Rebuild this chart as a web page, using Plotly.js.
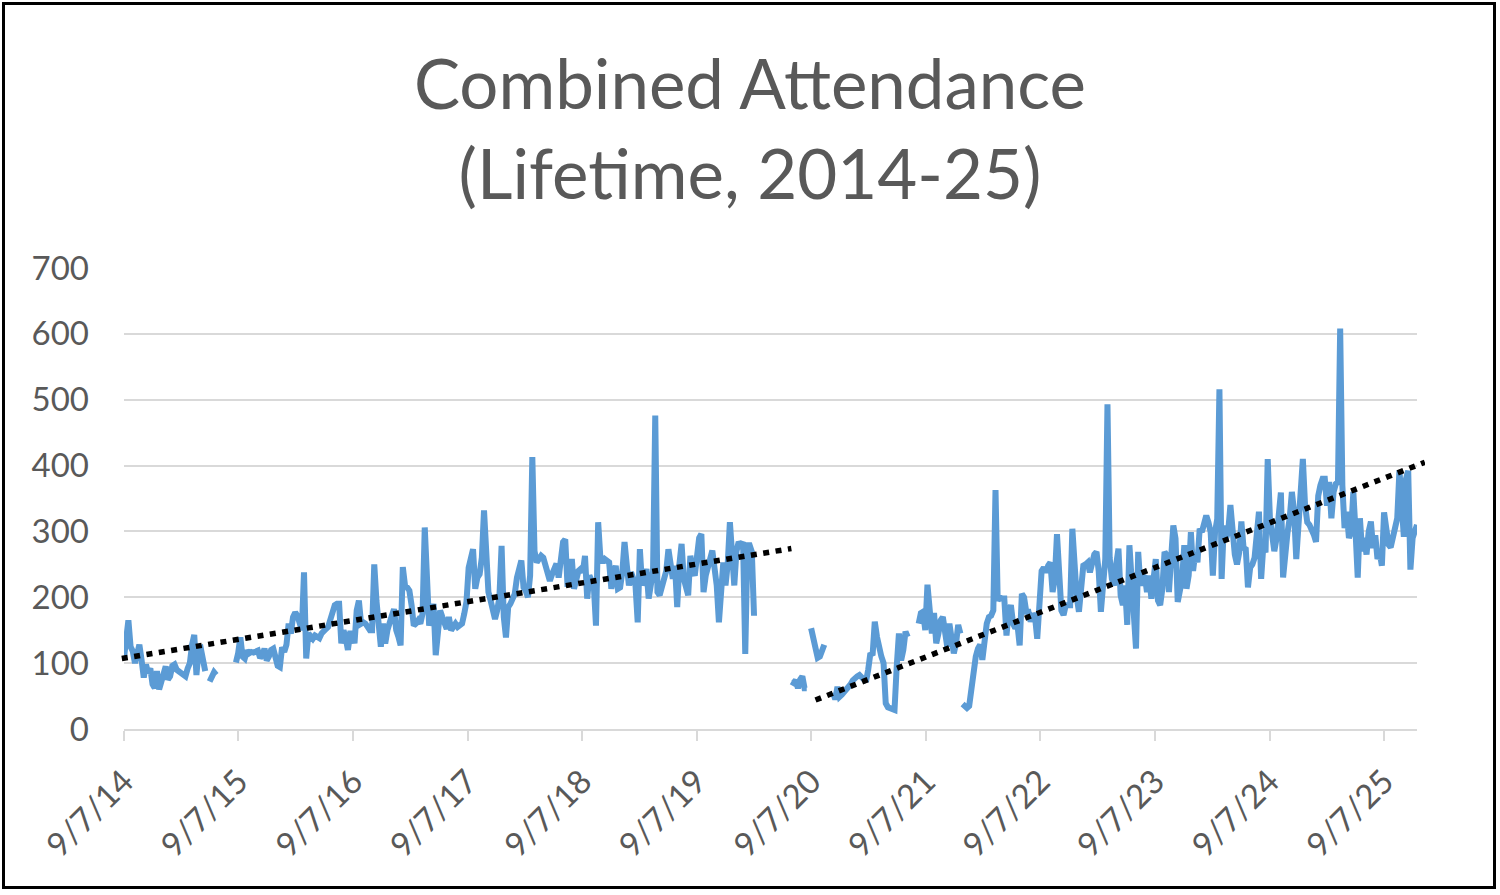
<!DOCTYPE html>
<html>
<head>
<meta charset="utf-8">
<title>Combined Attendance</title>
<script src="https://cdn.plot.ly/plotly-3.0.1.min.js"></script>
<style>
    html, body { margin: 0; padding: 0; background: #fff; }
    #chart { width: 1500px; height: 895px; }
    .frame { position: absolute; left: 2px; top: 2px; width: 1488px; height: 881px; border: 3px solid #000; pointer-events: none; }
</style>
</head>
<body>
<div id="chart"></div>
<div class="frame"></div>
<script>
// Weekly attendance. Each run is one unbroken stretch of the line.
const att1415 = [108, 140, 165, 125, 118, 100, 120, 128, 105, 78, 98, 85, 92, 68, 62, 88, 60, 75, 90, 95,
    75, 80, 96, 98, 90, 88, 86, 82, 80, 92, 100, 128, 143, 82, 120, 122, 100, 88, null, 72, 78, 86, 82];
const att1516 = [101, 115, 139, 110, 107, 119, 115, 117, 116, 118, 119, 108, 112, 122, 104, 110, 120, 122, 109, 96,
    94, 124, 117, 128, 160, 145, 170, 177, 172, 160, 150, 238, 107, 145, 140, 137, 142, 140, 138, 145,
    150, 152, 155, 165, 175, 188, 190, 190, 130, 150, 138, 120];
const att1617 = [145, 145, 130, 180, 195, 160, 162, 160, 155, 150, 150, 250, 195, 160, 125, 160, 130, 150, 165, 172,
    182, 150, 140, 127, 246, 218, 215, 210, 188, 157, 160, 165, 160, 175, 306, 200, 157, 175, 190, 112,
    150, 180, 170, 160, 152, 170, 150, 155, 160, 155, 158, 160];
const att1718 = [175, 193, 245, 258, 273, 213, 230, 235, 260, 332, 260, 208, 195, 180, 167, 180, 200, 278, 170, 139,
    185, 190, 200, 205, 230, 240, 256, 215, 210, 200, 233, 413, 270, 253, 258, 263, 260, 250, 235, 225,
    235, 245, 251, 230, 260, 284, 288, 220, 220, 258, 213, 233];
const att1819 = [240, 243, 238, 263, 198, 233, 225, 218, 157, 314, 260, 253, 258, 255, 253, 213, 230, 248, 213, 215,
    238, 284, 250, 218, 238, 225, 218, 162, 273, 218, 230, 243, 198, 228, 240, 476, 208, 203, 215, 230,
    240, 273, 250, 228, 248, 185, 250, 281, 228, 210, 203, 263];
const att1920 = [240, 233, 258, 290, 296, 208, 233, 250, 258, 271, 240, 218, 162, 220, 253, 218, 250, 314, 250, 218,
    270, 284, 279, 284, 114, 279, 279, 269, 172];
const attSummer20 = [72, 70, 74, 62, 75, 80, 62, 62];
const attFall20 = [153, 140, 125, 108, 110, 118, 128];
const attWinter21 = [55, 45, 64, 49, 52, 56, 59, 62, 68, 74, 78, 80, 82, 78, 74, 72, 90, 115, 112, 163,
    140, 120, 110, 100, 39, 33, 31, 30, 29, 95, 145, 104, 120, 148, 140];
const att2122 = [160, 176, 178, 150, 219, 165, 145, 176, 130, 145, 165, 170, 140, 125, 160, 140, 115, 130, 158, 145];
const att2022 = [38, 36, 32, 35, 60, 95, 110, 122, 128, 105, 138, 160, 170, 172, 180, 363, 195, 200, 198, 198,
    142, 178, 188, 160, 153, 158, 127, 205, 200, 178, 178, 163, 175, 170, 137, 178, 240, 245, 238, 248,
    253, 208, 228, 296, 228, 180, 173, 188, 188, 188, 304, 240];
const att2023 = [200, 178, 223, 248, 250, 253, 238, 258, 265, 269, 240, 178, 228, 258, 493, 260, 228, 218, 250, 274,
    203, 188, 218, 158, 279, 218, 180, 122, 269, 218, 230, 233, 208, 233, 198, 223, 258, 195, 188, 213,
    269, 264, 208, 260, 309, 289, 193, 210, 228, 279, 213, 233];
const att2024 = [299, 240, 268, 253, 304, 299, 310, 324, 314, 299, 233, 299, 319, 516, 228, 309, 289, 300, 340, 300,
    265, 250, 268, 315, 275, 273, 215, 245, 250, 260, 300, 330, 228, 278, 268, 410, 320, 290, 270, 289,
    320, 359, 230, 280, 298, 320, 360, 330, 258, 309, 355, 410];
const att2025 = [340, 314, 310, 304, 295, 284, 354, 370, 380, 380, 339, 375, 320, 360, 372, 375, 608, 370, 305, 330,
    290, 300, 360, 300, 230, 320, 270, 290, 265, 300, 315, 275, 294, 258, 268, 248, 329, 305, 280, 276,
    290, 305, 320, 393, 330, 292, 380, 392, 242, 290, 300, 310];

const runs = [
    { start: '2014-09-07', values: att1415 },
    { start: '2015-08-30', values: [...att1516, ...att1617, ...att1718, ...att1819, ...att1920] },
    { start: '2020-07-05', values: attSummer20 },
    { start: '2020-09-06', values: attFall20 },
    { start: '2020-11-15', values: attWinter21 },
    { start: '2021-08-15', values: att2122 },
    { start: '2022-01-02', values: [...att2022, ...att2023, ...att2024, ...att2025] }
];

// Dotted linear trendlines (end points as drawn)
const trendEarlyDates = ['2014-08-31', '2020-07-05'];
const trendEarlyValues = [107, 274];
const trendLateDates = ['2020-09-20', '2026-01-15'];
const trendLateValues = [44, 405];

const tickDates = ['2014-09-07', '2015-09-07', '2016-09-07', '2017-09-07', '2018-09-07', '2019-09-07',
    '2020-09-07', '2021-09-07', '2022-09-07', '2023-09-07', '2024-09-07', '2025-09-07'];
const tickLabels = ['9/7/14', '9/7/15', '9/7/16', '9/7/17', '9/7/18', '9/7/19',
    '9/7/20', '9/7/21', '9/7/22', '9/7/23', '9/7/24', '9/7/25'];
const xRange = ['2014-09-07', '2025-12-21'];

const DAY = 86400000;
const TEXT = '#595959';
const GRID = '#D9D9D9';
const FONT = 'Lato, "Open Sans", sans-serif';

function isoDay(ms) {
    return new Date(ms).toISOString().slice(0, 10);
}

function buildSeries(list) {
    const x = [], y = [];
    list.forEach((run, r) => {
        const t0 = Date.parse(run.start + 'T00:00:00Z');
        if (r) { x.push(isoDay(t0 - DAY)); y.push(null); }
        run.values.forEach((v, i) => {
            x.push(isoDay(t0 + i * 7 * DAY));
            y.push(v);
        });
    });
    return { x, y };
}

// plot box: the axes span AXIS_L..AXIS_R, the trendlines run a few px past them
const PLOT_L = 118, AXIS_L = 124, AXIS_R = 1417, PLOT_R = 1425;
const t0 = Date.parse(xRange[0] + 'T00:00:00Z');
const t1 = Date.parse(xRange[1] + 'T00:00:00Z');
const msPerPx = (t1 - t0) / (AXIS_R - AXIS_L);
const toDate = ms => new Date(ms).toISOString().replace('T', ' ').replace('Z', '');
const x2Range = [toDate(t0 - (AXIS_L - PLOT_L) * msPerPx), toDate(t1 + (PLOT_R - AXIS_R) * msPerPx)];
const plotW = PLOT_R - PLOT_L;

const series = buildSeries(runs);

const traces = [{
    type: 'scatter', mode: 'lines', x: series.x, y: series.y,
    connectgaps: false,
    line: { color: '#5B9BD5', width: 6, shape: 'linear' },
    hoverinfo: 'x+y'
}, {
    type: 'scatter', mode: 'lines', x: trendEarlyDates, y: trendEarlyValues,
    xaxis: 'x2', yaxis: 'y2',
    line: { color: '#000000', width: 5.5, dash: '6px,6.5px' }
}, {
    type: 'scatter', mode: 'lines', x: trendLateDates, y: trendLateValues,
    xaxis: 'x2', yaxis: 'y2',
    line: { color: '#000000', width: 5.5, dash: '6px,6.5px' }
}];

const tickFont = { family: FONT, size: 33, color: TEXT };

const layout = {
    width: 1500,
    height: 895,
    paper_bgcolor: '#ffffff',
    plot_bgcolor: 'rgba(0,0,0,0)',
    showlegend: false,
    margin: { l: PLOT_L, r: 1500 - PLOT_R, t: 268, b: 166, pad: 0 },
    title: {
        text: 'Combined Attendance<br>(Lifetime, 2014-25)',
        font: { family: FONT, size: 69, color: TEXT },
        x: 0.5, xref: 'container', xanchor: 'center',
        y: 1 - 109 / 895, yref: 'container', yanchor: 'top'
    },
    xaxis: {
        type: 'date',
        range: xRange,
        domain: [(AXIS_L - PLOT_L) / plotW, (AXIS_R - PLOT_L) / plotW],
        anchor: 'y',
        tickmode: 'array',
        tickvals: tickDates,
        ticktext: tickLabels,
        tickangle: -45,
        ticks: 'outside', ticklen: 10, tickwidth: 2, tickcolor: GRID,
        showline: true, linecolor: GRID, linewidth: 2,
        showgrid: false, zeroline: false,
        tickfont: tickFont,
        ticklabelstandoff: 8
    },
    yaxis: {
        range: [0, 700],
        anchor: 'x',
        tick0: 0, dtick: 100,
        showgrid: true, gridcolor: GRID, gridwidth: 2,
        zeroline: false, showline: false, ticks: '',
        tickfont: tickFont,
        ticklabelstandoff: 34
    },
    xaxis2: {
        type: 'date', range: x2Range, domain: [0, 1], anchor: 'y2', visible: false
    },
    yaxis2: {
        range: [0, 700], domain: [0, 1], anchor: 'x2', visible: false
    }
};

Plotly.newPlot('chart', traces, layout, { displayModeBar: false, staticPlot: true });
</script>
</body>
</html>
